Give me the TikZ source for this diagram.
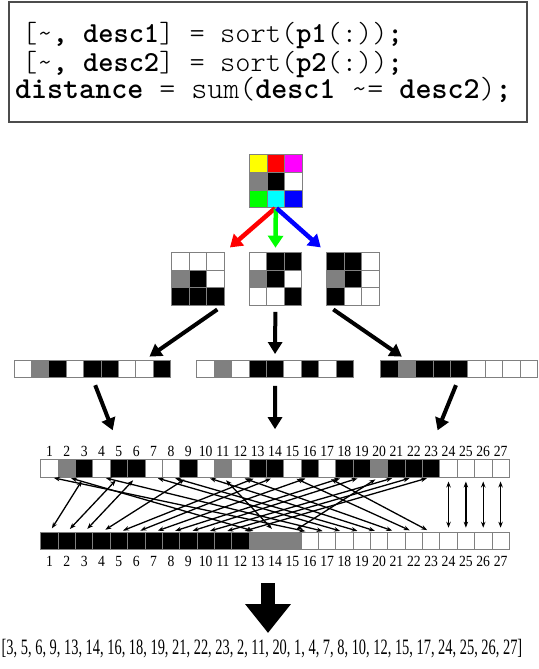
\documentclass[tikz,border=0pt]{standalone}
\usepackage{fontspec}
\newfontfamily\codefont{lmmonolt10-regular.otf}[BoldFont=lmmonolt10-bold.otf]
\newfontfamily\labelfont[FakeStretch=0.88]{Liberation Serif}
\newfontfamily\resultfont[FakeStretch=0.655]{Liberation Serif}
\usetikzlibrary{arrows.meta,positioning}
\definecolor{pyellow}{rgb}{1,1,0}
\definecolor{pred}{rgb}{1,0,0}
\definecolor{pmagenta}{rgb}{1,0,1}
\definecolor{pgray}{rgb}{0.5,0.5,0.5}
\definecolor{pgreen}{rgb}{0,1,0}
\definecolor{pcyan}{rgb}{0,1,1}
\definecolor{pblue}{rgb}{0,0,1}

\begin{document}
\begin{tikzpicture}[x=1pt,y=-1pt]
\tikzstyle{cell}=[draw=gray,line width=0.7pt,inner sep=0pt,outer sep=0pt,minimum size=17.4pt]
\tikzstyle{frame}=[inner sep=0pt,outer sep=0pt]
\tikzstyle{code}=[anchor=base west,inner sep=0pt,font=\codefont\fontsize{29}{31}\selectfont]
\tikzstyle{colarrow}=[line width=4.5pt,-{Triangle[length=12pt,width=15pt]}]
\tikzstyle{blackarrow}=[line width=4pt,-{Triangle[length=12pt,width=14pt]}]
\tikzstyle{swaparrow}=[line width=1.3pt,{Stealth[length=6pt,width=4.5pt]}-{Stealth[length=6pt,width=4.5pt]},shorten <=4.5pt,shorten >=4.5pt]
\tikzstyle{num}=[inner sep=0pt,font=\labelfont\fontsize{15.5}{15.5}\selectfont]
\useasboundingbox (0,0) rectangle (538,669);

% matlab code
\node [frame,draw=black!70,line width=1.2pt,minimum width=518pt,minimum height=120pt] (codebox) at (268,62) {};
\node [code] (line1) at (22,43) {[\textasciitilde\textbf{,} \textbf{desc1}] = sort(\textbf{p1}(:))\textbf{;}};
\node [code] (line2) at (22,71) {[\textasciitilde\textbf{,} \textbf{desc2}] = sort(\textbf{p2}(:))\textbf{;}};
\node [code,font=\codefont\fontsize{30.5}{32}\selectfont] (line3) at (15,99) {\textbf{distance} = sum(\textbf{desc1} \textasciitilde= \textbf{desc2})\textbf{;}};

% colour patch
\node [frame,minimum size=53.1pt] (cg) at (275.85,181) {};
\foreach \c [count=\k from 0] in {pyellow,pred,pmagenta,pgray,black,white,pgreen,pcyan,pblue}
  \node [cell,minimum size=17.7pt,fill=\c] (cg-\k) at ([shift={({(mod(\k,3)-1)*17.7},{(int(\k/3)-1)*17.7})}]cg.center) {};

% channels
\node [frame,minimum size=52.2pt] (g1) at (197.8,278.8) {};
\node [frame,minimum size=52.2pt] (g2) at (275.4,278.8) {};
\node [frame,minimum size=52.2pt] (g3) at (352.8,278.8) {};
\foreach \c [count=\k from 0] in {white,white,white,pgray,black,white,black,black,black}
  \node [cell,fill=\c] (g1-\k) at ([shift={({(mod(\k,3)-1)*17.4},{(int(\k/3)-1)*17.4})}]g1.center) {};
\foreach \c [count=\k from 0] in {white,black,black,pgray,black,white,white,white,black}
  \node [cell,fill=\c] (g2-\k) at ([shift={({(mod(\k,3)-1)*17.4},{(int(\k/3)-1)*17.4})}]g2.center) {};
\foreach \c [count=\k from 0] in {black,black,white,pgray,black,white,black,white,white}
  \node [cell,fill=\c] (g3-\k) at ([shift={({(mod(\k,3)-1)*17.4},{(int(\k/3)-1)*17.4})}]g3.center) {};

\draw [colarrow,pred,shorten <=1pt,shorten >=8pt] (cg.south) -- (g1.north east);
\draw [colarrow,pgreen,shorten <=1pt,shorten >=5pt] (cg.south) -- (g2.north);
\draw [colarrow,pblue,shorten <=1pt,shorten >=8pt] (cg.south) -- (g3.north west);

% flattened channels
\foreach \c [count=\i] in {white,pgray,black,white,black,black,white,white,black}
  \node [cell,minimum height=17.7pt] [fill=\c] (s1-\i) at ({14+(\i-0.5)*17.4},368.9) {};
\foreach \c [count=\i] in {white,pgray,white,black,black,white,black,white,black}
  \node [cell,minimum height=17.7pt] [fill=\c] (s2-\i) at ({196.7+(\i-0.5)*17.4},368.9) {};
\foreach \c [count=\i] in {black,pgray,black,black,black,white,white,white,white}
  \node [cell,minimum height=17.7pt] [fill=\c] (s3-\i) at ({380.7+(\i-0.5)*17.4},368.9) {};

\draw [blackarrow,shorten <=8pt,shorten >=6pt] (g1.south east) -- (s1-8.north);
\draw [blackarrow,shorten <=7pt,shorten >=6pt] (g2.south) -- (s2-5.north);
\draw [blackarrow,shorten <=8pt,shorten >=6pt] (g3.south west) -- (s3-2.north);

% concatenated descriptor and sorted one
\foreach \c [count=\i] in {white,pgray,black,white,black,black,white,white,black,
    white,pgray,white,black,black,white,black,white,black,
    black,pgray,black,black,black,white,white,white,white} {
  \node [cell] [fill=\c] (t\i) at ({40.8+(\i-0.5)*17.35},468.3) {};
  \node [num] (n\i) at ({40.8+(\i-0.5)*17.35},451.5) {\i};
}
\foreach \c [count=\i] in {black,black,black,black,black,black,black,black,black,black,black,black,
    pgray,pgray,pgray,white,white,white,white,white,white,white,white,white,white,white,white} {
  \node [cell] [fill=\c] (b\i) at ({40.8+(\i-0.5)*17.35},540.9) {};
  \node [num] (m\i) at ({40.8+(\i-0.5)*17.35},561) {\i};
}

\draw [blackarrow,shorten <=8pt,shorten >=17pt] (s1-5.south) -- (n5.north);
\draw [blackarrow,shorten <=8pt,shorten >=17pt] (s2-5.south) -- (n14.north);
\draw [blackarrow,shorten <=8pt,shorten >=17pt] (s3-5.south) -- (n23.north);

\foreach \src [count=\j] in {3,5,6,9,13,14,16,18,19,21,22,23,2,11,20,1,4,7,8,10,12,15,17,24,25,26,27}
  \draw [swaparrow] (t\src.south) -- (b\j.north);

% result
\node [inner sep=0pt,font=\resultfont\fontsize{22}{22}\selectfont] (result) at (262,649)
  {[3, 5, 6, 9, 13, 14, 16, 18, 19, 21, 22, 23, 2, 11, 20, 1, 4, 7, 8, 10, 12, 15, 17, 24, 25, 26, 27]};
\coordinate (down1) at (268,583);
\coordinate (down2) at (268,633);
\draw [line width=14.3pt,-{Triangle[length=29pt,width=44pt]}] (down1) -- (down2);
\end{tikzpicture}
\end{document}
